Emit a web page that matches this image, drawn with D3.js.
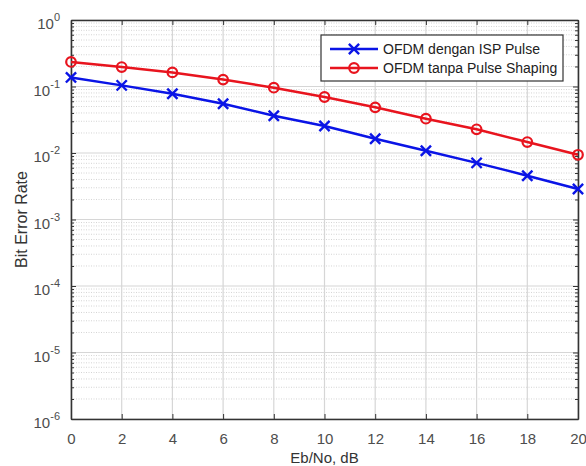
<!DOCTYPE html>
<html lang="en">
<head>
<meta charset="UTF-8">
<title>BER OFDM</title>
<script src="https://d3js.org/d3.v7.min.js"></script>
<style>
  body { margin: 0; background: #fff; }
  text { font-family: "Liberation Sans", Arial, sans-serif; }
</style>
</head>
<body>
<svg id="chart" width="586" height="466"></svg>
<script>
// data
var ebno = [0, 2, 4, 6, 8, 10, 12, 14, 16, 18, 20];
var berIsp = [0.137, 0.104, 0.078, 0.055, 0.0364, 0.0255, 0.0164, 0.0108, 0.0071, 0.00456, 0.00288];
var berNoShaping = [0.234, 0.196, 0.163, 0.127, 0.096, 0.0695, 0.0486, 0.0328, 0.0227, 0.0146, 0.0094];
var seriesNames = ["OFDM dengan ISP Pulse", "OFDM tanpa Pulse Shaping"];
var xTicks = [0, 2, 4, 6, 8, 10, 12, 14, 16, 18, 20];
var yExponents = [0, -1, -2, -3, -4, -5, -6];

var svg = d3.select("#chart");
var margin = { left: 71, right: 8, top: 20, bottom: 47 };
var W = 586, H = 466;
var x = d3.scaleLinear().domain([0, 20]).range([margin.left, W - margin.right]);
var y = d3.scaleLog().domain([1e-6, 1]).range([H - margin.bottom, margin.top]);
var x0 = margin.left, x1 = W - margin.right, y0 = H - margin.bottom, y1 = margin.top;

// minor grid (dotted)
var minors = [];
yExponents.slice(1).forEach(function (e) {
  for (var k = 2; k <= 9; k++) minors.push(k * Math.pow(10, e));
});
svg.append("g").selectAll("line").data(minors).enter().append("line")
  .attr("x1", x0).attr("x2", x1)
  .attr("y1", function (d) { return y(d); }).attr("y2", function (d) { return y(d); })
  .attr("stroke", "#d4d4d4").attr("stroke-width", 1).attr("stroke-dasharray", "1,1.5");

// major grid
svg.append("g").selectAll("line").data(yExponents).enter().append("line")
  .attr("x1", x0).attr("x2", x1)
  .attr("y1", function (e) { return y(Math.pow(10, e)); })
  .attr("y2", function (e) { return y(Math.pow(10, e)); })
  .attr("stroke", "#d6d6d6").attr("stroke-width", 1.2);
svg.append("g").selectAll("line").data(xTicks).enter().append("line")
  .attr("y1", y0).attr("y2", y1)
  .attr("x1", function (d) { return x(d); }).attr("x2", function (d) { return x(d); })
  .attr("stroke", "#d6d6d6").attr("stroke-width", 1.2);

// axes with inward ticks
var tickCol = "#333";
var gx = svg.append("g").attr("transform", "translate(0," + y0 + ")")
  .call(d3.axisBottom(x).tickValues(xTicks).tickSize(-5).tickSizeOuter(0).tickPadding(14).tickFormat(d3.format("d")));
var gxTop = svg.append("g").attr("transform", "translate(0," + y1 + ")")
  .call(d3.axisTop(x).tickValues(xTicks).tickSize(-5).tickSizeOuter(0).tickFormat(""));
var yMajor = yExponents.map(function (e) { return Math.pow(10, e); });
var gy = svg.append("g").attr("transform", "translate(" + x0 + ",0)")
  .call(d3.axisLeft(y).tickValues(yMajor).tickSize(-5).tickSizeOuter(0).tickFormat(""));
var gyR = svg.append("g").attr("transform", "translate(" + x1 + ",0)")
  .call(d3.axisRight(y).tickValues(yMajor).tickSize(-5).tickSizeOuter(0).tickFormat(""));
var gyMinL = svg.append("g").attr("transform", "translate(" + x0 + ",0)")
  .call(d3.axisLeft(y).tickValues(minors).tickSize(-3).tickSizeOuter(0).tickFormat(""));
var gyMinR = svg.append("g").attr("transform", "translate(" + x1 + ",0)")
  .call(d3.axisRight(y).tickValues(minors).tickSize(-3).tickSizeOuter(0).tickFormat(""));
[gx, gxTop, gy, gyR, gyMinL, gyMinR].forEach(function (g) {
  g.selectAll("path.domain").attr("stroke", tickCol).attr("stroke-width", 1.3);
  g.selectAll(".tick line").attr("stroke", tickCol);
});
gx.selectAll(".tick text").attr("font-size", 15).attr("fill", "#4d4d4d")
  .attr("font-family", "Liberation Sans, Arial, sans-serif");

// y tick labels as 10^e
var ylab = svg.append("g");
yExponents.forEach(function (e) {
  var t = ylab.append("text").attr("x", x0 - 11).attr("y", y(Math.pow(10, e)) + 9)
    .attr("text-anchor", "end").attr("fill", "#4d4d4d").attr("font-size", 15);
  t.append("tspan").text("10");
  t.append("tspan").attr("dy", -8).attr("font-size", 11).text(e);
});

// axis titles
svg.append("text").attr("x", (x0 + x1) / 2).attr("y", 463).attr("text-anchor", "middle")
  .attr("font-size", 15).attr("fill", "#333").text("Eb/No, dB");
svg.append("text").attr("transform", "translate(27,219.5) rotate(-90)")
  .attr("text-anchor", "middle").attr("font-size", 16).attr("fill", "#333").text("Bit Error Rate");

// lines
var line = d3.line().x(function (d) { return x(d[0]); }).y(function (d) { return y(d[1]); });
var blueData = d3.zip(ebno, berIsp), redData = d3.zip(ebno, berNoShaping);
var blue = "#0a14e6", red = "#e8141e";

svg.append("path").datum(redData).attr("d", line).attr("fill", "none")
  .attr("stroke", red).attr("stroke-width", 2.5);
svg.append("g").selectAll("circle").data(redData).enter().append("circle")
  .attr("cx", function (d) { return x(d[0]); }).attr("cy", function (d) { return y(d[1]); })
  .attr("r", 4.8).attr("fill", "none").attr("stroke", red).attr("stroke-width", 2.2);

svg.append("path").datum(blueData).attr("d", line).attr("fill", "none")
  .attr("stroke", blue).attr("stroke-width", 2.5);
var cross = d3.symbol().type(d3.symbolX).size(70);
svg.append("g").selectAll("path").data(blueData).enter().append("path")
  .attr("transform", function (d) { return "translate(" + x(d[0]) + "," + y(d[1]) + ")"; })
  .attr("d", cross).attr("fill", "none").attr("stroke", blue).attr("stroke-width", 2.4);

// legend
var lg = svg.append("g");
lg.append("rect").attr("x", 321).attr("y", 35).attr("width", 242).attr("height", 46)
  .attr("fill", "#fff").attr("stroke", "#333").attr("stroke-width", 1.2);
var cols = [blue, red];
seriesNames.forEach(function (name, i) {
  var yy = 49 + i * 19;
  lg.append("line").attr("x1", 330).attr("x2", 378).attr("y1", yy).attr("y2", yy)
    .attr("stroke", cols[i]).attr("stroke-width", 2.5);
  if (i === 0) {
    lg.append("path").attr("transform", "translate(354," + yy + ")").attr("d", cross)
      .attr("fill", "none").attr("stroke", blue).attr("stroke-width", 2.4);
  } else {
    lg.append("circle").attr("cx", 354).attr("cy", yy).attr("r", 4.8)
      .attr("fill", "none").attr("stroke", red).attr("stroke-width", 2.2);
  }
  lg.append("text").attr("x", 383).attr("y", yy + 5).attr("font-size", 14)
    .attr("fill", "#222").text(name);
});
</script>
</body>
</html>
